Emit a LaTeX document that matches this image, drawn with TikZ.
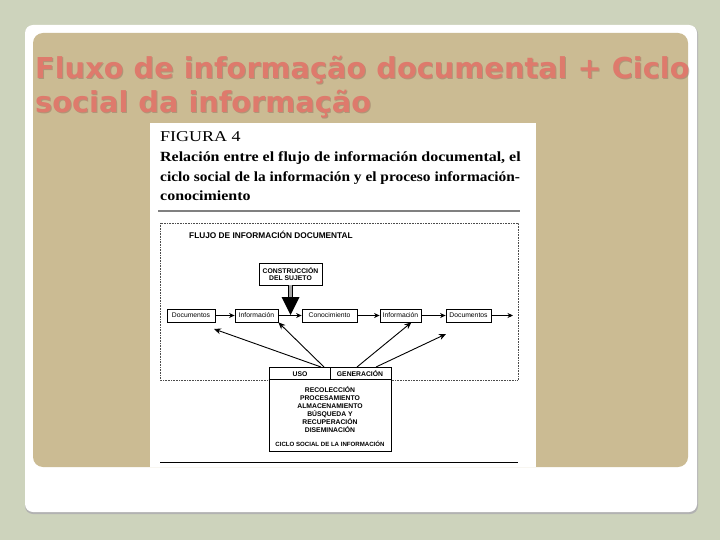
\documentclass[tikz,border=0pt]{standalone}
\usepackage{fontspec}
\setmainfont{Liberation Serif}
\setsansfont{Liberation Sans}
\newfontfamily\titlefont{DejaVu Sans}
\usetikzlibrary{shadows,arrows.meta}
\definecolor{outerbg}{HTML}{CDD3BC}
\definecolor{tanbg}{HTML}{CBBB93}
\definecolor{titlecol}{HTML}{DE7A6C}
\definecolor{titleshadow}{HTML}{8E6A58}
\tikzset{
  flowbox/.style={draw=black, line width=0.8pt, fill=white, inner sep=1.5pt, minimum height=13pt, font=\sffamily\fontsize{6.8}{7}\selectfont, drop shadow={shadow xshift=0.8pt, shadow yshift=-1.4pt, fill=gray!80, opacity=1}},
  flowarrow/.style={-{Stealth[length=5.5pt,width=5pt]}, line width=1.2pt},
  thinarrow/.style={-{Stealth[length=7pt,width=6pt]}, line width=0.9pt},
  lbl/.style={font=\sffamily\bfseries\fontsize{6.8}{7.5}\selectfont, inner sep=0pt},
  ttl/.style={anchor=base west, inner sep=0pt, font=\titlefont\bfseries\fontsize{28.8}{32}\selectfont},
  captext/.style={anchor=base west, inner sep=0pt, font=\bfseries\fontsize{14}{16}\selectfont},
}
\begin{document}
\begin{tikzpicture}[x=1pt,y=-1pt]
\useasboundingbox (0,0) rectangle (720,540);
\fill[outerbg] (0,0) rectangle (720,540);
% white card
\fill[gray!60] (25,26) [rounded corners=8pt] rectangle (698,514);
\fill[white, rounded corners=8pt] (25,25) rectangle (697,512);
% tan area
\fill[tanbg, rounded corners=10pt] (33,33) rectangle (688,467);
% title
\node[ttl, text=titleshadow, opacity=0.45] at (36,80) {Fluxo de informação documental + Ciclo};
\node[ttl, text=titleshadow, opacity=0.45] at (36,114) {social da informação};
\node[ttl, text=titlecol] (t1) at (35,79) {Fluxo de informação documental + Ciclo};
\node[ttl, text=titlecol] (t2) at (35,113) {social da informação};
% inset
\fill[white] (150,123) rectangle (536,467);
\node[anchor=base west, inner sep=0pt, font=\fontsize{15}{17}\selectfont] (fig) at (160,142) {\scalebox{1.2}[1]{FIGURA 4}};
\node[captext] (c1) at (160,162) {\scalebox{1.14}[1]{Relación entre el flujo de información documental, el}};
\node[captext] (c2) at (160,182) {\scalebox{1.1}[1]{ciclo social de la información y el proceso información-}};
\node[captext] (c3) at (160,201) {\scalebox{1.14}[1]{conocimiento}};
\draw[gray, line width=1.5pt] (158,211) -- (520,211);
\draw[black!70, line width=0.6pt, densely dotted] (160,223) rectangle (518,380);
\node[lbl, anchor=west, font=\sffamily\bfseries\fontsize{8.3}{9}\selectfont] (flujo) at (189,235) {FLUJO DE INFORMACIÓN DOCUMENTAL};
% construction box
\node[flowbox, lbl, inner sep=1.5pt, align=center, minimum width=63pt, minimum height=22pt] (cons) at (290.5,274) {CONSTRUCCIÓN\\DEL SUJETO};
% row
\node[flowbox, minimum width=48pt] (d1) at (191,315.5) {Documentos};
\node[flowbox, minimum width=43pt] (i1) at (256.5,315.5) {Información};
\node[flowbox, minimum width=55pt] (k) at (329.5,315.5) {Conocimiento};
\node[flowbox, minimum width=41pt] (i2) at (400.5,315.5) {Información};
\node[flowbox, minimum width=45pt] (d2) at (468.5,315.5) {Documentos};
\coordinate (end) at (513,315.5);
\draw[flowarrow] (d1) -- (i1);
\draw[flowarrow, line width=0.9pt] (i1) -- (k);
\draw[flowarrow] (k) -- (i2);
\draw[flowarrow] (i2) -- (d2);
\draw[flowarrow] (d2) -- (end);
% thick arrow
\draw[black, line width=0.5pt, double=gray!70, double distance=3.5pt] (cons.south) -- ++(0,12);
\fill[black] (281.5,297) -- (299.5,297) -- (290.5,315) -- cycle;
% ciclo social box
\node[draw=black, line width=0.8pt, fill=white, minimum width=122pt, minimum height=84pt, inner sep=0pt] (cs) at (330,409) {};
\draw[line width=0.6pt] (cs.north west) ++(0,13) -- ++(122,0);
\draw[line width=0.6pt] (330,367) -- (330,380);
\node[lbl] (uso) at (300,374) {USO};
\node[lbl] (gen) at (360,374) {GENERACIÓN};
\node[lbl, align=center, font=\sffamily\bfseries\fontsize{6.8}{8}\selectfont] (list) at (330,410) {RECOLECCIÓN\\PROCESAMIENTO\\ALMACENAMIENTO\\BÚSQUEDA Y\\RECUPERACIÓN\\DISEMINACIÓN};
\node[lbl, font=\sffamily\bfseries\fontsize{6.1}{7}\selectfont] (ciclo) at (330,444) {CICLO SOCIAL DE LA INFORMACIÓN};
% arrows from cycle
\coordinate (a1s) at (321,367);
\coordinate (a2s) at (324,367);
\coordinate (a3s) at (357,367);
\coordinate (a4s) at (376,367);
\coordinate (free1) at (214,329);
\coordinate (free2) at (446,334);
\draw[thinarrow] (a1s) -- (free1);
\draw[thinarrow] (a2s) -- (i1.south east);
\draw[thinarrow] (a3s) -- ([xshift=-10pt]i2.south east);
\draw[thinarrow] (a4s) -- (free2);
% bottom rule
\draw[black, line width=0.9pt] (160,462) -- (518,462);
\end{tikzpicture}
\end{document}
